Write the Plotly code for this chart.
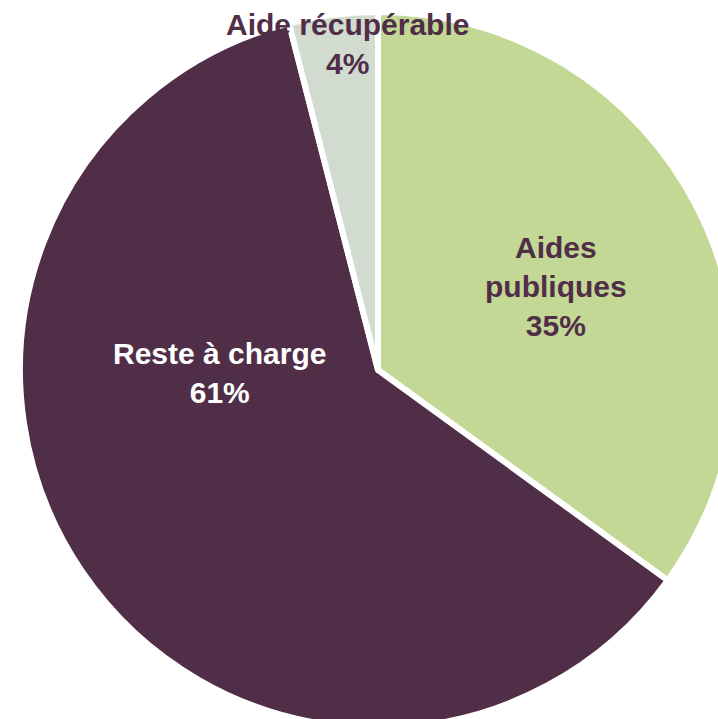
import plotly.graph_objects as go

labels = ["Aides publiques", "Reste à charge", "Aide récupérable"]
values = [35, 61, 4]
colors = ["#C3D894", "#512E48", "#D2DBD0"]
label_colors = ["#512E48", "#FFFFFF", "#512E48"]
label_text = ["Aides<br>publiques", "Reste à charge", "Aide récupérable"]

W, H = 760, 745
cx, cy, R = 378, 370, 358

fig = go.Figure(go.Pie(
    labels=labels, values=values, sort=False, direction="clockwise", rotation=0,
    marker=dict(colors=colors, line=dict(color="white", width=6)),
    textinfo="none", hoverinfo="label+percent", showlegend=False,
    domain=dict(x=[(cx - R) / W, (cx + R) / W], y=[1 - (cy + R) / H, 1 - (cy - R) / H]),
))

# label positions (pixels in the page)
label_pos = [(556, 287), (219, 373), (347, 44)]
total = sum(values)
for txt, v, col, (px, py) in zip(label_text, values, label_colors, label_pos):
    fig.add_annotation(
        x=px / W, y=1 - py / H, xref="paper", yref="paper", showarrow=False,
        text=f"{txt}<br>{round(100 * v / total)}%",
        font=dict(family="Liberation Sans, Arial", size=30, color=col, weight="bold"),
        align="center", xanchor="center", yanchor="middle",
    )

fig.update_layout(width=W, height=H, margin=dict(l=0, r=0, t=0, b=0),
                  paper_bgcolor="white", plot_bgcolor="white")

fig.write_html("out.html", config={"displayModeBar": False},
               post_script="document.body.style.margin='0';document.body.style.overflow='hidden';document.documentElement.style.overflow='hidden';")
